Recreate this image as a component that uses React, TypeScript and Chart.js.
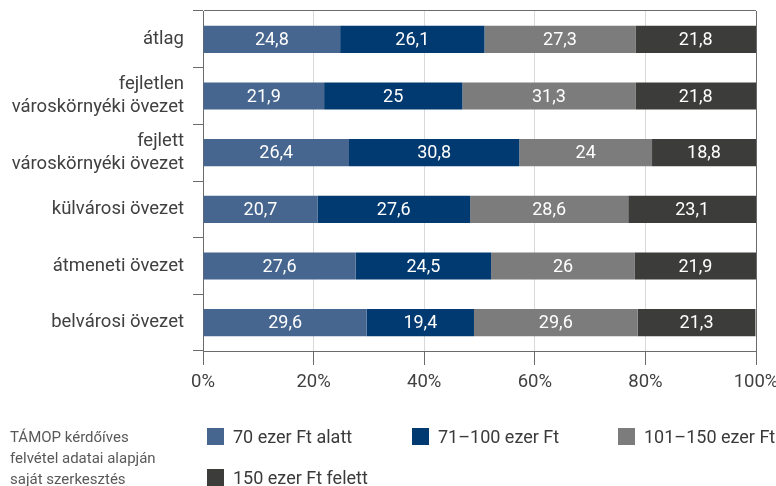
import React, { useEffect, useRef } from 'react';
import { Chart, registerables } from 'chart.js';

Chart.register(...registerables);

const categories: string[][] = [
  ['átlag'],
  ['fejletlen', 'városkörnyéki övezet'],
  ['fejlett', 'városkörnyéki övezet'],
  ['külvárosi övezet'],
  ['átmeneti övezet'],
  ['belvárosi övezet'],
];

const seriesNames = ['70 ezer Ft alatt', '71–100 ezer Ft', '101–150 ezer Ft', '150 ezer Ft felett'];
const seriesColors = ['#46658f', '#003a70', '#7c7c7c', '#3c3c3b'];

const below70 = [24.8, 21.9, 26.4, 20.7, 27.6, 29.6];
const from71to100 = [26.1, 25, 30.8, 27.6, 24.5, 19.4];
const from101to150 = [27.3, 31.3, 24, 28.6, 26, 29.6];
const above150 = [21.8, 21.8, 18.8, 23.1, 21.9, 21.3];

const xTickValues = [0, 20, 40, 60, 80, 100];
const sourceLines = ['TÁMOP kérdőíves', 'felvétel adatai alapján', 'saját szerkesztés'];

const FONT = 'Roboto, "Noto Sans", sans-serif';
const DARK = '#6b6b6b';
const LIGHT = '#d9d9d9';

const segmentLabels = {
  id: 'segmentLabels',
  afterDatasetsDraw(chart: any) {
    const ctx = chart.ctx;
    ctx.save();
    ctx.font = `18px ${FONT}`;
    ctx.fillStyle = '#ffffff';
    ctx.textAlign = 'center';
    ctx.textBaseline = 'middle';
    chart.data.datasets.forEach((ds: any, i: number) => {
      const meta = chart.getDatasetMeta(i);
      meta.data.forEach((el: any, j: number) => {
        const v = ds.data[j];
        const p = el.getProps(['x', 'base', 'y'], true);
        ctx.fillText(String(v).replace('.', ','), (p.x + p.base) / 2, p.y + 1);
      });
    });
    ctx.restore();
  },
};

export default function App() {
  const ref = useRef<HTMLCanvasElement | null>(null);

  useEffect(() => {
    if (!ref.current) return;
    const data = [below70, from71to100, from101to150, above150];
    const chart = new Chart(ref.current, {
      type: 'bar',
      data: {
        labels: categories,
        datasets: data.map((d, i) => ({
          label: seriesNames[i],
          data: d,
          backgroundColor: seriesColors[i],
          borderWidth: 0,
          barPercentage: 0.48,
          categoryPercentage: 1,
        })),
      },
      options: {
        indexAxis: 'y',
        animation: false,
        responsive: false,
        maintainAspectRatio: false,
        layout: { padding: { top: 11, right: 20, left: 0, bottom: 0 } },
        plugins: {
          legend: { display: false },
          tooltip: { enabled: false },
        },
        scales: {
          x: {
            stacked: true,
            min: 0,
            max: 100,
            afterFit: (s: any) => {
              s.height = 49;
              s.paddingRight = 0;
              s.paddingLeft = 0;
            },
            afterBuildTicks: (s: any) => {
              s.ticks = xTickValues.map((v) => ({ value: v }));
            },
            ticks: {
              callback: (v: any) => v + '%',
              color: '#404040',
              font: { family: FONT, size: 18.5 },
              padding: 6,
              maxRotation: 0,
            },
            grid: {
              color: (c: any) => (c.index === 0 || c.index === xTickValues.length - 1 ? DARK : LIGHT),
              tickColor: DARK,
              tickLength: 14,
              lineWidth: 1,
            },
            border: { color: DARK, width: 1 },
          },
          y: {
            stacked: true,
            afterFit: (s: any) => {
              s.width = 203;
              s.paddingTop = 0;
              s.paddingBottom = 0;
            },
            ticks: {
              color: '#404040',
              font: { family: FONT, size: 18.5, lineHeight: 1.25 },
              padding: 9,
            },
            grid: {
              offset: true,
              drawOnChartArea: true,
              color: (c: any) => (c.index === 0 ? DARK : 'rgba(0,0,0,0)'),
              tickColor: DARK,
              tickLength: 10,
            },
            border: { color: DARK, width: 1 },
          },
        },
      },
      plugins: [segmentLabels],
    } as any);
    return () => chart.destroy();
  }, []);

  const legendPos = [
    { left: 207, top: 428 },
    { left: 412, top: 428 },
    { left: 618, top: 428 },
    { left: 207, top: 469 },
  ];

  return (
    <div style={{ position: 'fixed', left: 0, top: 0, width: 776, height: 486, background: '#fff', fontFamily: FONT }}>
      <canvas ref={ref} width={776} height={400} style={{ position: 'absolute', left: 0, top: 0, width: 776, height: 400 }} />
      <div style={{ position: 'absolute', left: 10, top: 427, color: '#595959', fontSize: 15, lineHeight: '21px' }}>
        {sourceLines.map((l) => (
          <div key={l}>{l}</div>
        ))}
      </div>
      {seriesNames.map((n, i) => (
        <div key={n} style={{ position: 'absolute', left: legendPos[i].left, top: legendPos[i].top, display: 'flex', alignItems: 'center', height: 17 }}>
          <div style={{ width: 17, height: 17, background: seriesColors[i] }} />
          <div style={{ marginLeft: 9, fontSize: 18, color: '#3a3a3a', whiteSpace: 'nowrap', lineHeight: '17px' }}>{n}</div>
        </div>
      ))}
    </div>
  );
}
